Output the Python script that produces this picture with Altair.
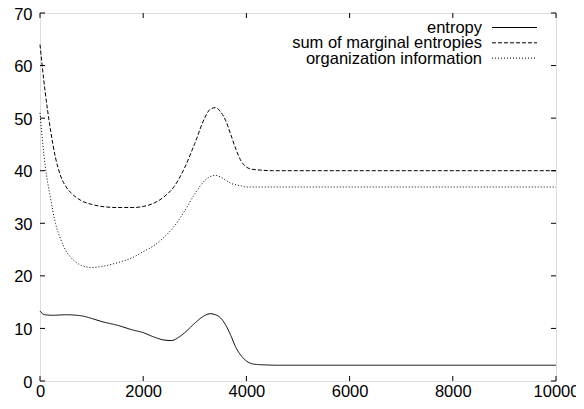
import altair as alt
import pandas as pd

# --- data ---
steps_sum = [0, 100, 200, 300, 400, 500, 600, 800, 1000, 1200, 1500, 1800, 2000, 2200, 2400,
             2600, 2800, 3000, 3200, 3300, 3400, 3500, 3600, 3700, 3800, 3900, 4000, 4100,
             4300, 4500, 10000]
sum_marginal = [64, 55, 48, 42.5, 39, 37, 35.8, 34.3, 33.6, 33.2, 33.0, 33.0, 33.2, 33.8, 35.0,
                37.0, 40.5, 45.2, 50.2, 51.7, 52.0, 51.2, 49.5, 46.8, 44.0, 41.8, 40.7, 40.3,
                40.1, 40.0, 40.0]

steps_ent = [0, 50, 100, 250, 500, 800, 1000, 1200, 1500, 1800, 2000, 2200, 2400, 2550, 2700,
             2850, 3000, 3150, 3300, 3400, 3500, 3600, 3700, 3800, 3900, 4000, 4100, 4200,
             4400, 4600, 10000]
entropy = [13.3, 12.8, 12.6, 12.5, 12.6, 12.4, 11.9, 11.3, 10.6, 9.7, 9.2, 8.4, 7.8, 7.7, 8.4,
           9.6, 11.0, 12.2, 12.8, 12.6, 12.0, 10.6, 8.6, 6.3, 4.8, 3.8, 3.3, 3.15,
           3.05, 3.0, 3.0]

steps_org = [0, 100, 200, 300, 400, 500, 600, 800, 1000, 1200, 1500, 1800, 2000, 2200, 2400,
             2600, 2800, 3000, 3200, 3300, 3400, 3500, 3600, 3700, 3800, 3900, 4000, 10000]
org_info = [51, 41, 35, 30, 27, 24.8, 23.5, 22, 21.6, 21.8, 22.5, 23.5, 24.6, 25.7, 27.3,
            29.4, 32.3, 35.6, 38.2, 38.9, 39.1, 38.8, 38.2, 37.6, 37.3, 37.1, 36.9, 36.9]

series_names = ["entropy", "sum of marginal entropies", "organization information"]
x_ticks = [0, 2000, 4000, 6000, 8000, 10000]
y_ticks = [0, 10, 20, 30, 40, 50, 60, 70]

W, H = 516, 368
FONT = "Liberation Sans"
FS = 16.5
DASHES = [[1, 0], [4, 2], [1, 2]]

rows = []
for s, xs, ys in [(series_names[0], steps_ent, entropy),
                  (series_names[1], steps_sum, sum_marginal),
                  (series_names[2], steps_org, org_info)]:
    for i, (a, b) in enumerate(zip(xs, ys)):
        rows.append({"series": s, "step": a, "value": b, "order": i})
df = pd.DataFrame(rows)

xscale = alt.Scale(domain=[0, 10000], nice=False, zero=False)
yscale = alt.Scale(domain=[0, 70], nice=False, zero=False)
dash_scale = alt.Scale(domain=series_names, range=DASHES)

lines = alt.Chart(df).mark_line(color="black", strokeWidth=1, interpolate="monotone").encode(
    x=alt.X("step:Q", scale=xscale,
            axis=alt.Axis(values=x_ticks, title=None, grid=False, domain=False, tickSize=0,
                          labelPadding=15, labelBaseline="alphabetic", labelFont=FONT,
                          labelFontSize=FS, labelColor="black", format="d", labelFlush=False)),
    y=alt.Y("value:Q", scale=yscale,
            axis=alt.Axis(values=y_ticks, title=None, grid=False, domain=False, tickSize=0,
                          labelPadding=8, labelOffset=1, labelFont=FONT, labelFontSize=FS,
                          labelColor="black", format="d", labelFlush=False)),
    strokeDash=alt.StrokeDash("series:N", scale=dash_scale, legend=None),
    detail="series:N",
    order="order:Q",
)

xt = pd.DataFrame({"v": x_ticks})
yt = pd.DataFrame({"v": y_ticks})
tick_style = dict(color="black", strokeWidth=1)
xb = alt.Chart(xt).mark_rule(**tick_style).encode(
    x=alt.X("v:Q", scale=xscale, axis=None), y=alt.value(H), y2=alt.value(H - 5))
xtp = alt.Chart(xt).mark_rule(**tick_style).encode(
    x=alt.X("v:Q", scale=xscale, axis=None), y=alt.value(0), y2=alt.value(5))
yl = alt.Chart(yt).mark_rule(**tick_style).encode(
    y=alt.Y("v:Q", scale=yscale, axis=None), x=alt.value(0), x2=alt.value(5))
yr = alt.Chart(yt).mark_rule(**tick_style).encode(
    y=alt.Y("v:Q", scale=yscale, axis=None), x=alt.value(W), x2=alt.value(W - 5))

legend_layers = []
for i, (name, dash) in enumerate(zip(series_names, DASHES)):
    py = 14.5 + i * 15.3
    one = pd.DataFrame({"series": [name]})
    legend_layers.append(
        alt.Chart(one).mark_text(align="right", baseline="middle", font=FONT, fontSize=FS,
                                 color="black", dy=0.5)
        .encode(text="series:N", x=alt.value(442), y=alt.value(py)))
    legend_layers.append(
        alt.Chart(one).mark_rule(color="black", strokeWidth=1, strokeDash=dash)
        .encode(x=alt.value(452), x2=alt.value(497), y=alt.value(py)))

chart = alt.layer(lines, xb, xtp, yl, yr, *legend_layers).resolve_axis(
    x="independent", y="independent"
).properties(
    width=W, height=H,
    padding={"left": 32, "top": 5, "right": 20, "bottom": 20},
    autosize=alt.AutoSizeParams(type="none"),
).configure_view(stroke="black", strokeWidth=1).configure(background="white")

chart.save("out.html", embed_options={"renderer": "svg", "actions": False})
